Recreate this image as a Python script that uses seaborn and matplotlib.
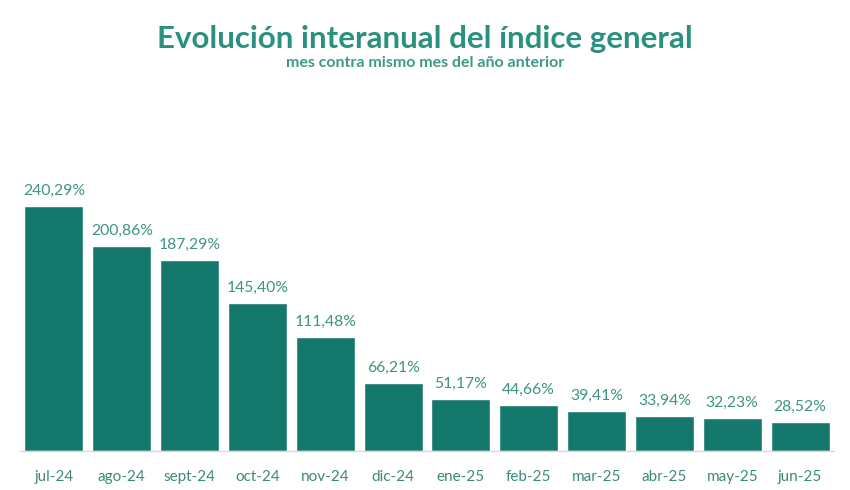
import numpy as np
import pandas as pd
import seaborn as sns
import matplotlib.pyplot as plt

meses = ["jul-24", "ago-24", "sept-24", "oct-24", "nov-24", "dic-24",
         "ene-25", "feb-25", "mar-25", "abr-25", "may-25", "jun-25"]
variacion = [240.29, 200.86, 187.29, 145.40, 111.48, 66.21,
             51.17, 44.66, 39.41, 33.94, 32.23, 28.52]

df = pd.DataFrame({"mes": meses, "var": variacion})

sns.set_style("white")
plt.rcParams["font.family"] = ["Lato", "DejaVu Sans"]

bar_color = "#14786d"

fig = plt.figure(figsize=(8.5, 4.9), dpi=100)
ax = fig.add_axes([20 / 850, 1 - 451 / 490, 814 / 850, 331 / 490])

sns.barplot(data=df, x="mes", y="var", color=bar_color, width=0.87,
            saturation=1, ax=ax)

labels = [f"{v:.2f}".replace(".", ",") + "%" for v in variacion]
ax.bar_label(ax.containers[0], labels=labels, padding=6,
             color="#3d9484", fontsize=11.3)

ax.set_xlim(-0.5, len(meses) - 0.5)
ax.set_ylim(0, 324.6)
ax.set_xlabel("")
ax.set_ylabel("")
ax.set_yticks([])
for s in ["top", "right", "left"]:
    ax.spines[s].set_visible(False)
ax.spines["bottom"].set_color("#d9d9d9")
ax.spines["bottom"].set_linewidth(1)

ax.set_xticks(np.arange(len(meses)))
ax.set_xticklabels(meses, color="#3a8a7c", fontsize=11)
ax.tick_params(axis="x", length=0, pad=14)
ax.set_xticks(np.arange(-0.5, len(meses)), minor=True)
ax.tick_params(axis="x", which="minor", length=5, color="#d9d9d9", width=1)

fig.text(0.5, 1 - 39 / 490, "Evolución interanual del índice general",
         ha="center", va="center", fontsize=22.5, fontweight="bold",
         color="#2a9080")
fig.text(0.5, 1 - 63 / 490, "mes contra mismo mes del año anterior",
         ha="center", va="center", fontsize=11.5, fontweight="bold",
         color="#3d9a88")

fig.savefig("out.png", dpi=100)
